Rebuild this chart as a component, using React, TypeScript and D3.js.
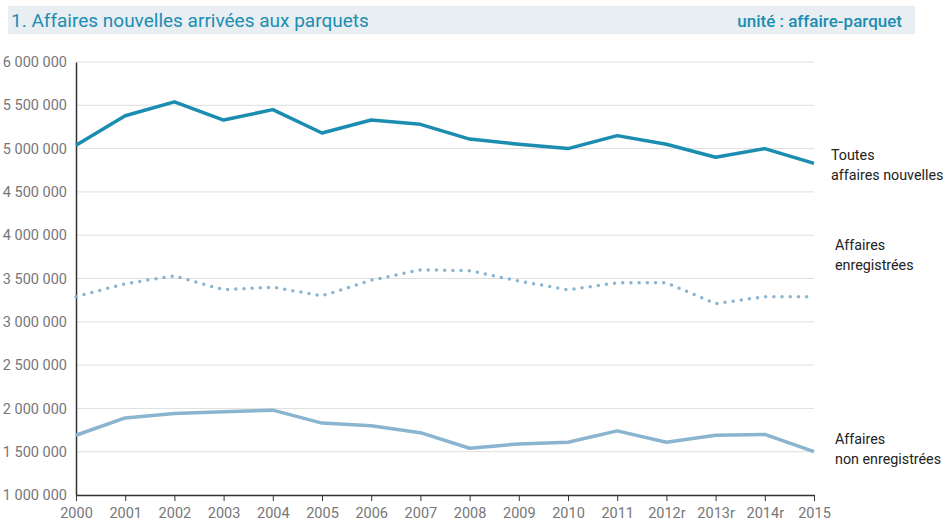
import React, { useEffect, useRef } from 'react';
import * as d3 from 'd3';

const years = ['2000', '2001', '2002', '2003', '2004', '2005', '2006', '2007', '2008', '2009', '2010', '2011', '2012r', '2013r', '2014r', '2015'];
const toutes = [5040000, 5380000, 5540000, 5330000, 5450000, 5180000, 5330000, 5280000, 5110000, 5050000, 5000000, 5150000, 5050000, 4900000, 5000000, 4830000];
const enregistrees = [3290000, 3440000, 3530000, 3370000, 3400000, 3300000, 3480000, 3600000, 3590000, 3470000, 3370000, 3450000, 3450000, 3210000, 3290000, 3290000];
const nonEnregistrees = [1690000, 1890000, 1940000, 1960000, 1980000, 1830000, 1800000, 1720000, 1540000, 1590000, 1610000, 1740000, 1610000, 1690000, 1700000, 1500000];
const yTicks = [1000000, 1500000, 2000000, 2500000, 3000000, 3500000, 4000000, 4500000, 5000000, 5500000, 6000000];

const font = '"Liberation Sans Narrow", "Roboto", sans-serif';

const App = () => {
  const ref = useRef<SVGSVGElement>(null);

  useEffect(() => {
    const svg = d3.select(ref.current);
    svg.selectAll('*').remove();

    const left = 76, right = 814, top = 62, bottom = 495;
    const x = d3.scalePoint().domain(years).range([left, right]);
    const y = d3.scaleLinear().domain([1000000, 6000000]).range([bottom, top]);

    // bandeau titre
    svg.append('rect').attr('x', 8).attr('y', 6).attr('width', 907).attr('height', 28).attr('fill', '#e8eef2');
    svg.append('text').attr('x', 11).attr('y', 27).attr('font-size', 19).attr('fill', '#1b8db3')
      .attr('font-family', font).text('1. Affaires nouvelles arrivées aux parquets');
    svg.append('text').attr('x', 902).attr('y', 27).attr('font-size', 17).attr('font-weight', 500)
      .attr('text-anchor', 'end').attr('fill', '#1b8db3').attr('font-family', font).text('unité : affaire-parquet');

    // grille
    svg.append('g').selectAll('line').data(yTicks.slice(1)).enter().append('line')
      .attr('x1', left).attr('x2', right).attr('y1', (d) => y(d)).attr('y2', (d) => y(d))
      .attr('stroke', '#dedede').attr('stroke-width', 1);

    const fmt = (d: number) => d3.format(',')(d).replace(/,/g, ' ');

    const yAxis = svg.append('g').attr('transform', `translate(${left},0)`)
      .call(d3.axisLeft(y).tickValues(yTicks).tickSize(0).tickPadding(9).tickFormat((d) => fmt(d as number)));
    yAxis.select('.domain').attr('stroke', '#333').attr('stroke-width', 1.5);
    yAxis.selectAll('text').attr('font-size', 14.5).attr('fill', '#777').attr('font-family', font);

    const xAxis = svg.append('g').attr('transform', `translate(0,${bottom})`)
      .call(d3.axisBottom(x).tickSize(6).tickSizeOuter(0).tickPadding(7));
    xAxis.select('.domain').attr('stroke', '#333').attr('stroke-width', 1.5);
    xAxis.selectAll('line').attr('stroke', '#333');
    xAxis.selectAll('text').attr('font-size', 14.5).attr('fill', '#777').attr('font-family', font);

    const line = d3.line<number>().x((_, i) => x(years[i]) as number).y((d) => y(d));

    svg.append('path').datum(toutes).attr('d', line).attr('fill', 'none')
      .attr('stroke', '#1a8db0').attr('stroke-width', 3.5).attr('stroke-linejoin', 'round');
    svg.append('path').datum(enregistrees).attr('d', line).attr('fill', 'none')
      .attr('stroke', '#8ab4cf').attr('stroke-width', 3.5).attr('stroke-linecap', 'round')
      .attr('stroke-dasharray', '0 8.2');
    svg.append('path').datum(nonEnregistrees).attr('d', line).attr('fill', 'none')
      .attr('stroke', '#8ab4cf').attr('stroke-width', 3.5).attr('stroke-linejoin', 'round');

    const labels = [
      { x: 831, y: 160, lines: ['Toutes', 'affaires nouvelles'] },
      { x: 835, y: 250, lines: ['Affaires', 'enregistrées'] },
      { x: 835, y: 444, lines: ['Affaires', 'non enregistrées'] },
    ];
    labels.forEach((l) => {
      const t = svg.append('text').attr('font-size', 14.3).attr('fill', '#222').attr('font-family', font);
      l.lines.forEach((s, i) => {
        t.append('tspan').attr('x', l.x).attr('y', l.y + i * 19.5).text(s);
      });
    });
  }, []);

  return (
    <svg ref={ref} width={945} height={524} style={{ position: 'absolute', left: 0, top: 0, background: '#fff' }} />
  );
};

export default App;
